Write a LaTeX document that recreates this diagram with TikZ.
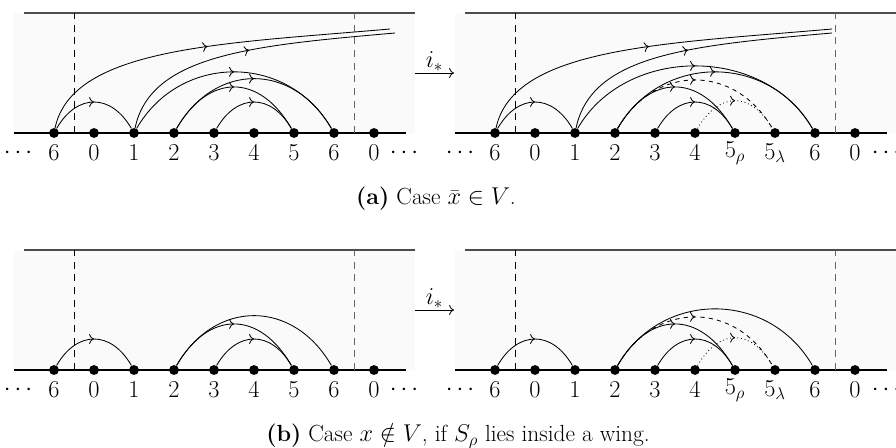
\documentclass[tikz,border=0pt]{standalone}
\usepackage{amsmath, amssymb}
\usepackage{tikz}
\usetikzlibrary{decorations.markings, arrows.meta}

\begin{document}
\begin{tikzpicture}[
    dot/.style={circle, fill, inner sep=0pt, minimum size=7pt},
    lab/.style={font=\LARGE, inner sep=1pt},
    wing/.style={fill=black!2},
    topline/.style={draw=black!70, line width=0.8pt},
    axisline/.style={line width=0.9pt},
    cutline/.style={dash pattern=on 5pt off 4pt, line width=0.6pt},
    link/.style={line width=0.6pt},
    midarrow/.style={postaction={decorate}, decoration={markings,
        mark=at position 0.5 with {\arrow{Computer Modern Rightarrow[length=3.5pt, width=7pt]}}}},
    subcap/.style={font=\fontsize{16.6}{20}\selectfont}
]
\useasboundingbox (0,0) rectangle (22.4,-11.2);

% (a) left
\begin{scope}[shift={(1.35,-3.325)}]
\fill[wing] (-1,0) rectangle (9.025,3);
\draw[topline] (-0.75,3) -- (9.025,3);
\draw[axisline] (-1,0) -- (8.8,0);
\draw[cutline] (0.5,0) -- (0.5,3);
\draw[cutline, black!60] (7.5,0) -- (7.5,3);
\foreach \l [count=\i from 0] in {6,0,1,2,3,4,5,6,0} {
    \node[dot] (aL\i) at (\i,0) {};
    \node[lab] (aLt\i) at (\i,-0.5) {$\l$};
}
\node[lab] (aLdl) at (-0.85,-0.5) {$\cdots$};
\node[lab] (aLdr) at (8.8,-0.5) {$\cdots$};
\coordinate (aLe0) at (8.4,2.6);
\coordinate (aLe2) at (8.525,2.5);
\draw[link, midarrow] (aL0) .. controls +(78:2.2) and +(185:4.2) .. (aLe0);
\draw[link, midarrow] (aL2) .. controls +(78:2.0) and +(185:3.6) .. (aLe2);
\draw[link, midarrow] (aL0) .. controls +(60:1.15) and +(120:1.15) .. (aL2);
\draw[link, midarrow] (aL2) .. controls +(60:2.31) and +(120:2.31) .. (aL7);
\draw[link, midarrow] (aL3) .. controls +(60:2.05) and +(120:2.05) .. (aL7);
\draw[link, midarrow] (aL3) .. controls +(60:1.73) and +(120:1.73) .. (aL6);
\draw[link, midarrow] (aL4) .. controls +(60:1.15) and +(120:1.15) .. (aL6);
\end{scope}

% (a) right
\begin{scope}[shift={(12.375,-3.325)}]
\fill[wing] (-1,0) rectangle (10.025,3);
\draw[topline] (-0.75,3) -- (10.025,3);
\draw[axisline] (-1,0) -- (9.8,0);
\draw[cutline] (0.5,0) -- (0.5,3);
\draw[cutline, black!60] (8.5,0) -- (8.5,3);
\foreach \l [count=\i from 0] in {6,0,1,2,3,4,5_\rho,5_\lambda,6,0} {
    \node[dot] (aR\i) at (\i,0) {};
    \node[lab] (aRt\i) at (\i,-0.5) {$\l$};
}
\node[lab] (aRdl) at (-0.825,-0.5) {$\cdots$};
\node[lab] (aRdr) at (9.825,-0.5) {$\cdots$};
\coordinate (aRe0) at (8.425,2.6);
\coordinate (aRe2) at (8.425,2.5);
\draw[link, midarrow] (aR0) .. controls +(78:2.2) and +(185:4.2) .. (aRe0);
\draw[link, midarrow] (aR2) .. controls +(78:2.0) and +(185:3.6) .. (aRe2);
\draw[link, midarrow] (aR0) .. controls +(60:1.15) and +(120:1.15) .. (aR2);
\draw[link, midarrow] (aR2) .. controls +(60:2.54) and +(120:2.54) .. (aR8);
\draw[link, midarrow] (aR3) .. controls +(60:2.31) and +(120:2.31) .. (aR8);
\draw[link, midarrow, dashed] (aR3) .. controls +(60:2.0) and +(120:2.0) .. (aR7);
\draw[link, midarrow] (aR3) .. controls +(60:1.73) and +(120:1.73) .. (aR6);
\draw[link, midarrow] (aR4) .. controls +(60:1.15) and +(120:1.15) .. (aR6);
\draw[link, midarrow, dotted] (aR5) .. controls +(60:1.2) and +(120:1.2) .. (aR7);
\end{scope}

\coordinate (ia1) at (10.375,-1.825);
\coordinate (ia2) at (11.35,-1.825);
\draw[link, -{Computer Modern Rightarrow[length=3.5pt, width=7pt]}] (ia1) -- node[lab, above] (iaLab) {$i_*$} (ia2);
\node[subcap] (capA) at (10.9,-4.975) {\textbf{(a)} Case $\bar{x}\in V$.};

% (b) left
\begin{scope}[shift={(1.35,-9.25)}]
\fill[wing] (-1,0) rectangle (9.025,3);
\draw[topline] (-0.75,3) -- (9.025,3);
\draw[axisline] (-1,0) -- (8.8,0);
\draw[cutline] (0.5,0) -- (0.5,3);
\draw[cutline, black!60] (7.5,0) -- (7.5,3);
\foreach \l [count=\i from 0] in {6,0,1,2,3,4,5,6,0} {
    \node[dot] (bL\i) at (\i,0) {};
    \node[lab] (bLt\i) at (\i,-0.5) {$\l$};
}
\node[lab] (bLdl) at (-0.85,-0.5) {$\cdots$};
\node[lab] (bLdr) at (8.8,-0.5) {$\cdots$};
\draw[link, midarrow] (bL0) .. controls +(60:1.15) and +(120:1.15) .. (bL2);
\draw[link] (bL3) .. controls +(60:2.05) and +(120:2.05) .. (bL7);
\draw[link, midarrow] (bL3) .. controls +(60:1.73) and +(120:1.73) .. (bL6);
\draw[link, midarrow] (bL4) .. controls +(60:1.15) and +(120:1.15) .. (bL6);
\end{scope}

% (b) right
\begin{scope}[shift={(12.375,-9.25)}]
\fill[wing] (-1,0) rectangle (10.025,3);
\draw[topline] (-0.75,3) -- (10.025,3);
\draw[axisline] (-1,0) -- (9.8,0);
\draw[cutline] (0.5,0) -- (0.5,3);
\draw[cutline, black!60] (8.5,0) -- (8.5,3);
\foreach \l [count=\i from 0] in {6,0,1,2,3,4,5_\rho,5_\lambda,6,0} {
    \node[dot] (bR\i) at (\i,0) {};
    \node[lab] (bRt\i) at (\i,-0.5) {$\l$};
}
\node[lab] (bRdl) at (-0.825,-0.5) {$\cdots$};
\node[lab] (bRdr) at (9.825,-0.5) {$\cdots$};
\draw[link, midarrow] (bR0) .. controls +(60:1.15) and +(120:1.15) .. (bR2);
\draw[link] (bR3) .. controls +(60:2.31) and +(120:2.31) .. (bR8);
\draw[link, midarrow, dashed] (bR3) .. controls +(60:2.0) and +(120:2.0) .. (bR7);
\draw[link, midarrow] (bR3) .. controls +(60:1.73) and +(120:1.73) .. (bR6);
\draw[link, midarrow] (bR4) .. controls +(60:1.15) and +(120:1.15) .. (bR6);
\draw[link, midarrow, dotted] (bR5) .. controls +(60:1.2) and +(120:1.2) .. (bR7);
\end{scope}

\coordinate (ib1) at (10.375,-7.75);
\coordinate (ib2) at (11.35,-7.75);
\draw[link, -{Computer Modern Rightarrow[length=3.5pt, width=7pt]}] (ib1) -- node[lab, above] (ibLab) {$i_*$} (ib2);
\node[subcap] (capB) at (11.45,-10.9) {\textbf{(b)} Case $x\notin V$, if $S_\rho$ lies inside a wing.};
\end{tikzpicture}
\end{document}
